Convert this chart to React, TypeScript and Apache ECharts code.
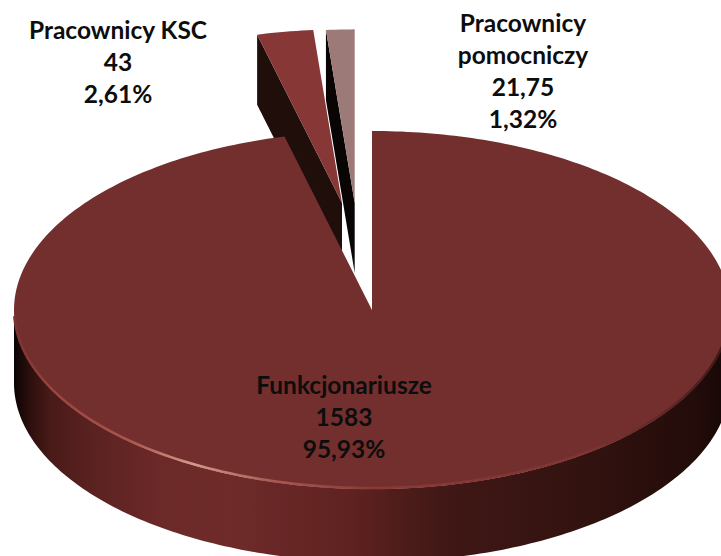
import React, { useEffect, useRef } from "react";
import * as echarts from "echarts";

const categories = ["Funkcjonariusze", "Pracownicy KSC", "Pracownicy\npomocniczy"];
const values = [1583, 43, 21.75];
const valueLabels = ["1583", "43", "21,75"];
const percentLabels = ["95,93%", "2,61%", "1,32%"];

const CX = 372, CY = 310, RX = 358, RY = 179, DEPTH = 70, MAIN_DEPTH = 73;
const looks = [
  { dx: 0, dy: 0, k: 1, top: "#732f2e", side: "#200e0a", lx: 344, ly: 368 },
  { dx: -30, dy: -107, k: 0.97, top: "#873735", side: "#200e0a", lx: 118, ly: 13 },
  { dx: -17.3, dy: -107, k: 0.97, top: "#9c7a78", side: "#080504", lx: 523, ly: 6 },
];
const total = values.reduce((a, b) => a + b, 0);

function renderItem(params: any, api: any) {
  const i = values.length - 1 - params.dataIndex;
  const v = api.value(0);
  let before = 0;
  for (let j = 0; j < i; j++) before += values[j];
  const a0 = (before / total) * Math.PI * 2;
  const a1 = ((before + v) / total) * Math.PI * 2;
  const L = looks[i];
  const ax = CX + L.dx, ay = CY + L.dy;
  const pt = (t: number, off = 0) => [ax + RX * L.k * Math.sin(t), ay - RY * L.k * Math.cos(t) + off];
  const arc = (s: number, e: number, off = 0) => {
    const out: number[][] = [];
    const n = Math.max(6, Math.ceil(Math.abs(e - s) * 60));
    for (let q = 0; q <= n; q++) out.push(pt(s + ((e - s) * q) / n, off));
    return out;
  };
  const children: any[] = [];
  const topPoints = [[ax, ay], ...arc(a0, a1)];
  if (i === 0) {
    const lo = Math.PI / 2, hi = (Math.PI * 3) / 2;
    children.push({
      type: "polygon",
      shape: { points: [...arc(lo, hi), ...arc(hi, lo, MAIN_DEPTH)] },
      style: {
        fill: new echarts.graphic.LinearGradient(CX - RX, 0, CX + RX, 0, [
          { offset: 0, color: "#0a0303" },
          { offset: 0.02, color: "#2a0e0c" },
          { offset: 0.05, color: "#481a18" },
          { offset: 0.1, color: "#582120" },
          { offset: 0.2, color: "#6b2928" },
          { offset: 0.3, color: "#6e2b2a" },
          { offset: 0.47, color: "#5f2220" },
          { offset: 0.6, color: "#401816" },
          { offset: 0.8, color: "#32120f" },
          { offset: 0.95, color: "#230c0a" },
          { offset: 1, color: "#150706" },
        ], true),
      },
    });
  } else {
    const c = pt(a0);
    children.push({
      type: "polygon",
      shape: { points: [c, [c[0], c[1] + DEPTH], [ax, ay + DEPTH], [ax, ay]] },
      style: { fill: L.side },
    });
  }
  children.push({ type: "polygon", shape: { points: topPoints }, style: { fill: L.top } });
  if (i === 0) {
    children.push({
      type: "polyline",
      shape: { points: arc(Math.PI / 2 + 0.12, (Math.PI * 3) / 2 - 0.04, -1) },
      style: {
        fill: "none",
        lineWidth: 2.5,
        stroke: new echarts.graphic.LinearGradient(CX - RX, 0, CX + RX, 0, [
          { offset: 0, color: "#7a3331" },
          { offset: 0.06, color: "#9c4641" },
          { offset: 0.16, color: "#a9534d" },
          { offset: 0.25, color: "#d39a8e" },
          { offset: 0.36, color: "#a85a52" },
          { offset: 0.5, color: "#8a3a38" },
          { offset: 0.8, color: "#7e3533" },
          { offset: 0.93, color: "#5a2322" },
          { offset: 1, color: "#3a1614" },
        ], true),
      },
    });
  }
  children.push({
    type: "text",
    style: {
      x: L.lx,
      y: L.ly,
      text: `${categories[i]}\n${valueLabels[i]}\n${percentLabels[i]}`,
      fill: "#0d0d0d",
      fontFamily: "Lato",
      fontWeight: 700,
      fontSize: 24.5,
      lineHeight: 32,
      align: "center",
      verticalAlign: "top",
    },
  });
  return { type: "group", children };
}

export default function App() {
  const ref = useRef<HTMLDivElement>(null);
  useEffect(() => {
    const chart = echarts.init(ref.current!, undefined, { renderer: "svg" });
    chart.setOption({
      animation: false,
      backgroundColor: "#ffffff",
      series: [
        {
          type: "custom",
          coordinateSystem: "none",
          silent: true,
          renderItem,
          data: values.map((v, i) => ({ name: categories[i], value: [v] })).reverse(),
        },
      ],
    });
    return () => chart.dispose();
  }, []);
  return <div ref={ref} style={{ position: "absolute", left: 0, top: 0, width: 721, height: 556 }} />;
}
